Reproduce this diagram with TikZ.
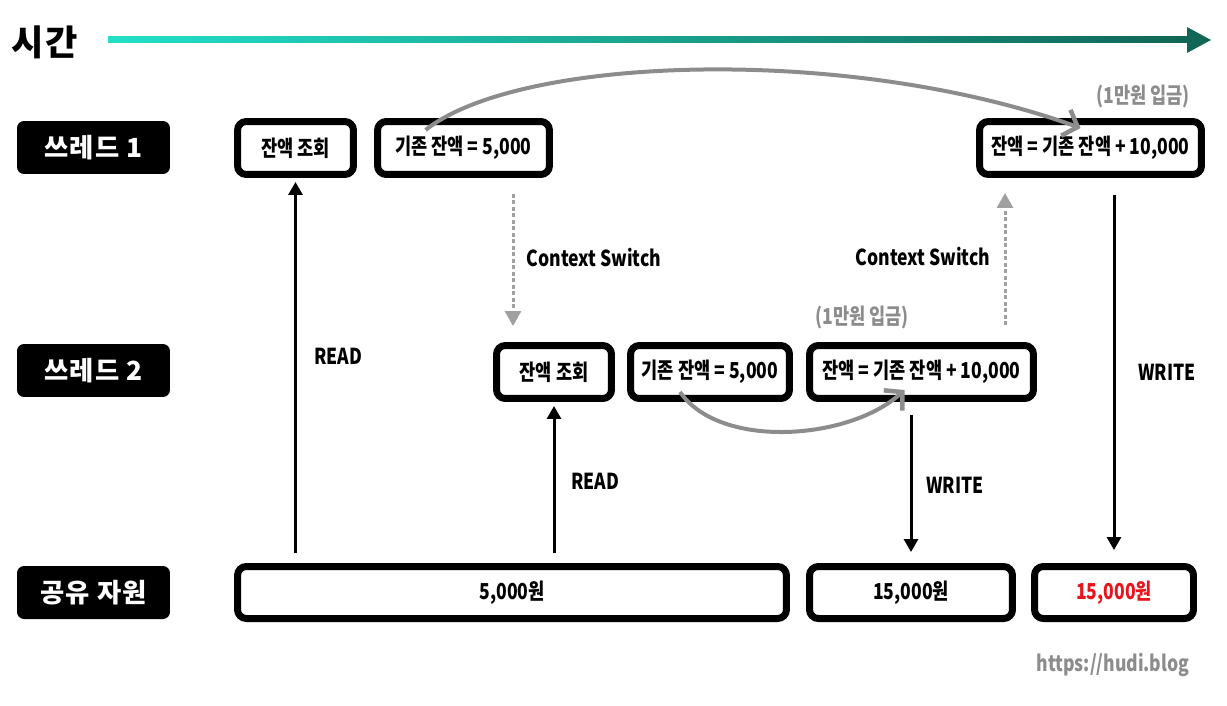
\documentclass[tikz,border=0pt]{standalone}
\usepackage{fontspec}
\setmainfont{Noto Sans CJK KR Black}[FakeStretch=0.8]
\newfontfamily\heavy{Noto Sans CJK KR Black}[LetterSpace=4]
\usetikzlibrary{arrows.meta,calc}
\definecolor{timeA}{HTML}{22E0C8}
\definecolor{timeB}{HTML}{116655}
\definecolor{arcgray}{HTML}{8C8C8C}
\definecolor{dotgray}{HTML}{A0A0A0}
\definecolor{bankred}{HTML}{E8141C}
\tikzstyle{lab} = [fill=black, rounded corners=4pt, text=white, font=\heavy\fontsize{15}{17}\selectfont, minimum width=3.06cm, minimum height=1.06cm, inner sep=0pt]
\tikzstyle{box} = [draw, line width=0.14cm, rounded corners=5pt, fill=white, font=\fontsize{12.5}{14}\selectfont, minimum height=1.06cm, inner sep=0pt]
\tikzstyle{flow} = [-{Triangle[length=0.26cm, width=0.28cm]}, line width=0.06cm]
\tikzstyle{switch} = [-{Triangle[length=0.3cm, width=0.32cm]}, dotgray, line width=0.06cm, dash pattern=on 0.08cm off 0.05cm]
\tikzstyle{deposit} = [-{Straight Barb[length=0.25cm, width=0.55cm, line width=0.09cm]}, arcgray, line width=0.08cm]
\tikzstyle{note} = [font=\fontsize{12.5}{14}\selectfont]

\begin{document}
\begin{tikzpicture}[x=0.02cm, y=-0.02cm]
    \useasboundingbox (0,0) rectangle (1227,706);
    % time line
    \node[font=\heavy\fontsize{20}{22}\selectfont] (time) at (45,42) {시간};
    \shade[left color=timeA, right color=timeB] (108,37) rectangle (1190,43);
    \fill[timeB] (1187,27) -- (1211,40) -- (1187,53) -- cycle;
    % row labels
    \node[lab] (th1) at (93.5,147.5) {쓰레드 1};
    \node[lab] (th2) at (93.5,370.5) {쓰레드 2};
    \node[lab] (shared) at (93.5,592.5) {공유 자원};
    % thread 1
    \node[box, minimum width=2.32cm] (t1read) at (295.5,148) {잔액 조회};
    \node[box, minimum width=3.44cm] (t1base) at (463.5,148) {기존 잔액 = 5,000};
    \node[box, minimum width=4.44cm] (t1calc) at (1090.5,148) {잔액 = 기존 잔액 + 10,000};
    % thread 2
    \node[box, minimum width=2.30cm] (t2read) at (554,372) {잔액 조회};
    \node[box, minimum width=3.18cm] (t2base) at (710,372) {기존 잔액 = 5,000};
    \node[box, minimum width=4.48cm] (t2calc) at (921.5,372) {잔액 = 기존 잔액 + 10,000};
    % shared resource
    \node[box, minimum width=10.98cm, minimum height=1.04cm] (res1) at (512,592.5) {5,000원};
    \node[box, minimum width=4.06cm, minimum height=1.04cm] (res2) at (911,592.5) {15,000원};
    \node[box, minimum width=3.18cm, minimum height=1.04cm, text=bankred] (res3) at (1114,592.5) {15,000원};
    % read / write
    \draw[flow, shorten <=0.2cm, shorten >=0.08cm] (res1.north -| t1read) -- (t1read.south);
    \draw[flow, shorten <=0.2cm, shorten >=0.08cm] (res1.north -| t2read) -- (t2read.south);
    \draw[flow, shorten <=0.26cm, shorten >=0.22cm] (t2calc.south -| res2) -- (res2.north);
    \draw[flow, shorten <=0.34cm, shorten >=0.26cm] (t1calc.south -| res3) -- (res3.north);
    \node[note] (rd1) at (338,356) {READ};
    \node[note] (rd2) at (595,481) {READ};
    \node[note] (wr1) at (955,485) {WRITE};
    \node[note] (wr2) at (1167,372) {WRITE};
    % context switch
    \coordinate (cs1) at (513,0);
    \coordinate (cs2) at (1005,0);
    \draw[switch, shorten <=0.32cm, shorten >=0.32cm] (t1base.south -| cs1) -- (t2read.north -| cs1);
    \draw[switch, shorten <=0.34cm, shorten >=0.3cm] (t2calc.north -| cs2) -- (t1calc.south -| cs2);
    \node[note] (sw1) at (594,258) {Context Switch};
    \node[note] (sw2) at (923,257) {Context Switch};
    % deposits
    \draw[deposit] ($(t1base.north)+(-38,12)$) .. controls (520,55) and (850,45) .. ($(t1calc.north)+(-10,10)$);
    \draw[deposit] ($(t2base.south)+(-30,-10)$) .. controls (720,450) and (850,440) .. ($(t2calc.south)+(-17,-12)$);
    \node[note, text=arcgray] (dep1) at (1143,96) {(1만원 입금)};
    \node[note, text=arcgray] (dep2) at (862,317) {(1만원 입금)};
    \node[note, text=arcgray] (site) at (1113,665) {https://hudi.blog};
\end{tikzpicture}
\end{document}
